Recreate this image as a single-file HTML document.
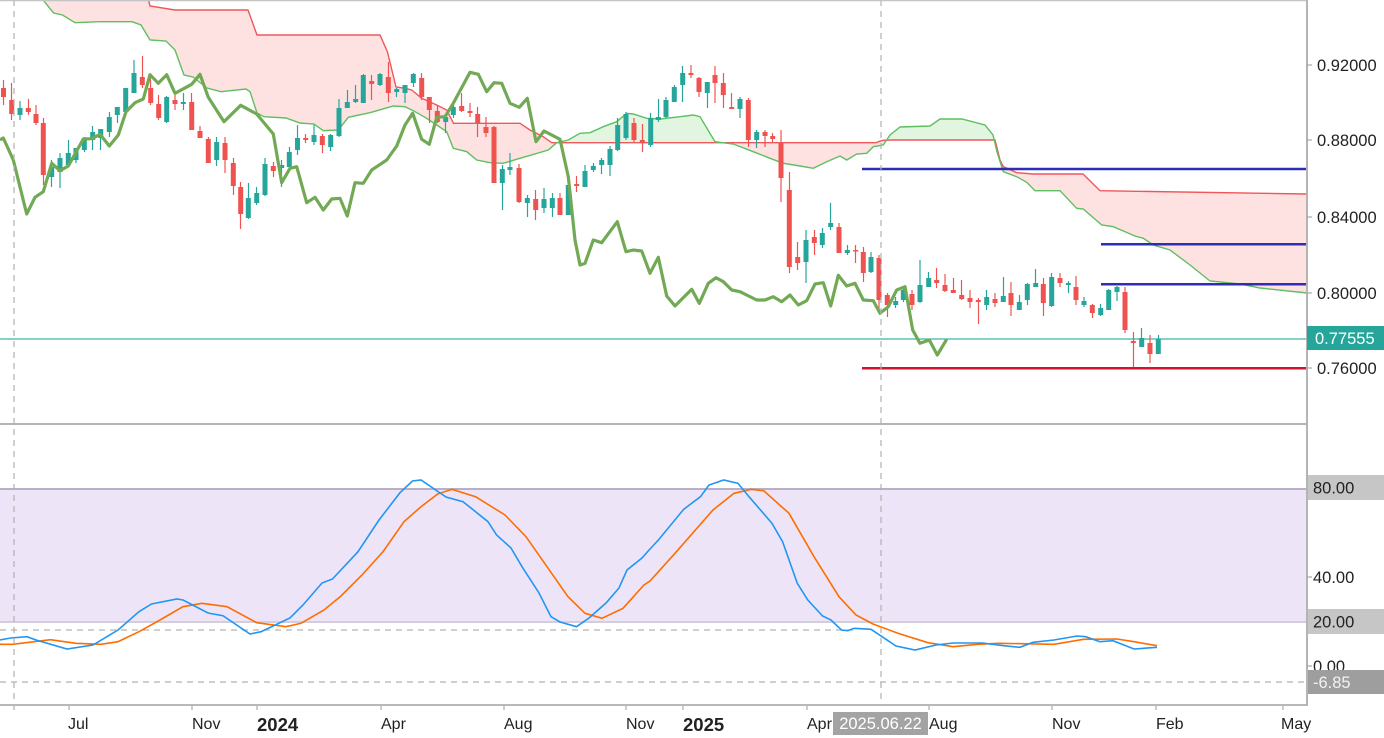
<!DOCTYPE html>
<html><head><meta charset="utf-8"><style>
html,body{margin:0;padding:0;background:#fff;}
svg{display:block;}
text{font-family:"Liberation Sans",sans-serif;}
</style></head><body>
<svg width="1384" height="738" viewBox="0 0 1384 738" xmlns="http://www.w3.org/2000/svg">
<rect width="1384" height="738" fill="#fff"/>
<!-- lower band -->
<rect x="0" y="489" width="1307" height="133" fill="#ede5f7"/>
<line x1="0" y1="489" x2="1307" y2="489" stroke="#b8b0c6" stroke-width="2"/>
<line x1="0" y1="622" x2="1307" y2="622" stroke="#d3ced9" stroke-width="2"/>
<!-- cloud fills -->
<polygon fill="#fde2e1" points="40,-10 146,-10 150,6 175,10 248,10 257,35 380,35 387.5,52 396,87 405,88.3 411.7,90 421.7,98.3 436.7,105 446.7,110 453.5,123.3 520,123.3 530,130 543.3,136.7 551.7,142.7 876,142.7 882,140.5 890,140 995,140 1000,160 1003.3,166.7 1016.7,172.7 1033,174 1083,174 1100,190.7 1307,194 1307,293 1260,288 1240,284 1210,281 1190,265 1170,250 1153.3,245 1143.3,238.3 1135,236 1123.3,231 1113.3,226.7 1101.7,225 1083.3,209 1076.7,208.3 1060,190.7 1035,190.7 1026.7,182.3 1016.7,176.7 1003.3,171.7 997,152 993,135 985,125 962,119 940,119 930,126 900,127 890,135 883.3,145 873.3,146.7 866.7,153.3 856.7,154 846.7,160 840,156 826.7,161.7 813.3,168.3 800,166 783.3,163.3 770,158.3 753.3,151.7 733.3,144 715,141.7 700,116.7 693.3,115 680,116.7 660,119 646.7,118.3 633.3,114 626.7,113.3 616.7,121.7 603.3,126.7 590,132.7 580,133.3 568.3,140 556.7,142.7 548.3,150 520,158.3 503.3,163.3 490,162.7 476.7,160 466.7,151.7 453.3,148.3 446.7,131.7 436.7,125 426.7,118.3 413.3,110.7 405,106.7 393.3,106 370,112.7 348.3,117.3 338.3,130 323.3,130.7 314,124 300,123 286,118 264,116.7 257,113 250,91.7 246,89 221,91.7 207,88 193,77 184,75 175,50 166,41 150,40 141,25 132,21.7 100,21.7 75,22.7 62.5,15 53.6,13 43,0 40,-5"/>
<polygon fill="#e1f5e1" points="556.7,142.7 568.3,140 580,133.3 590,132.7 603.3,126.7 616.7,121.7 626.7,113.3 633.3,114 646.7,118.3 660,119 680,116.7 693.3,115 700,116.7 715,142.7"/>
<polygon fill="#e1f5e1" points="887,140 890,135 900,127 930,126 940,119 962,119 985,125 993,135 995,140"/>
<!-- cloud lines -->
<polyline fill="none" stroke="#f0575a" stroke-width="1.4" points="40,-10 146,-10 150,6 175,10 248,10 257,35 380,35 387.5,52 396,87 405,88.3 411.7,90 421.7,98.3 436.7,105 446.7,110 453.5,123.3 520,123.3 530,130 543.3,136.7 551.7,142.7 876,142.7 882,140.5 890,140 995,140 1000,160 1003.3,166.7 1016.7,172.7 1033,174 1083,174 1100,190.7 1307,194"/>
<polyline fill="none" stroke="#5fbf5f" stroke-width="1.4" points="40,-5 43,0 53.6,13 62.5,15 75,22.7 100,21.7 132,21.7 141,25 150,40 166,41 175,50 184,75 193,77 207,88 221,91.7 246,89 250,91.7 257,113 264,116.7 286,118 300,123 314,124 323.3,130.7 338.3,130 348.3,117.3 370,112.7 393.3,106 405,106.7 413.3,110.7 426.7,118.3 436.7,125 446.7,131.7 453.3,148.3 466.7,151.7 476.7,160 490,162.7 503.3,163.3 520,158.3 548.3,150 556.7,142.7 568.3,140 580,133.3 590,132.7 603.3,126.7 616.7,121.7 626.7,113.3 633.3,114 646.7,118.3 660,119 680,116.7 693.3,115 700,116.7 715,141.7 733.3,144 753.3,151.7 770,158.3 783.3,163.3 800,166 813.3,168.3 826.7,161.7 840,156 846.7,160 856.7,154 866.7,153.3 873.3,146.7 883.3,145 890,135 900,127 930,126 940,119 962,119 985,125 993,135 997,152 1003.3,171.7 1016.7,176.7 1026.7,182.3 1035,190.7 1060,190.7 1076.7,208.3 1083.3,209 1101.7,225 1113.3,226.7 1123.3,231 1135,236 1143.3,238.3 1153.3,245 1170,250 1190,265 1210,281 1240,284 1260,288 1307,293"/>
<!-- current price line -->
<line x1="0" y1="339" x2="1307" y2="339" stroke="#3cb4a8" stroke-width="1.3"/>
<!-- candles red -->
<path fill="none" stroke="#ef5350" stroke-width="1.2" d="M3.5 80V105M11.5 83V120M28.5 99V115M36 105V125M43.5 118V185M142.5 56V88M150.5 77V105M158.5 95V120M175 95V110M191.5 93V130M200 126V138M208.5 137V163M225 137V173M233.5 158V195M240.5 182V229M273.5 162V177M305.5 134V143M322.5 134V153M371.5 75V100M388.5 62V102M421.5 73V100M429.5 97V123M437.5 105V123M461.5 93V112M470 103V117M477.5 107V137M486 117V137M494 126V183M519 164V203M535.5 190V220M560 193V215M576.5 176V192M634 118V142M642.5 124V152M691 65V78M699 77V97M715 66V103M723.5 73V108M731.5 93V109M748.5 98V147M765 130V147M772.5 133V142M781 130V202M789.5 172V273M797.5 242V270M814.5 230V255M839 223V253M855.5 245V263M863.5 247V282M879 255V310M887.5 293V317M912 290V310M936.5 268V288M945 274V292M953.5 278V293M961.5 280V300M970 290V308M978.5 298V324M995 293V307M1011 282V316M1043.5 278V316M1060 273V287M1076 276V305M1092.5 304V318M1125 287V333M1133.5 332V368M1150 335V363"/>
<g fill="#ef5350">
<rect x="1" y="88" width="5" height="9"/><rect x="9.2" y="100" width="5" height="14"/><rect x="25.8" y="108" width="5" height="4"/><rect x="33.5" y="114" width="5" height="9"/><rect x="40.8" y="123" width="5" height="52"/><rect x="139.8" y="77" width="5" height="8"/><rect x="148.2" y="88" width="5" height="15"/><rect x="156.2" y="104" width="5" height="14"/><rect x="172.5" y="100" width="5" height="4"/><rect x="189.2" y="102" width="5" height="28"/><rect x="197.5" y="131" width="5" height="7"/><rect x="205.8" y="139" width="5" height="24"/><rect x="222.5" y="143" width="5" height="17"/><rect x="230.8" y="163" width="5" height="23"/><rect x="238.2" y="187" width="5" height="27"/><rect x="270.8" y="166" width="5" height="5"/><rect x="303.2" y="138" width="5" height="2"/><rect x="319.8" y="136" width="5" height="9"/><rect x="369.2" y="81" width="5" height="3"/><rect x="385.8" y="77" width="5" height="16"/><rect x="419.2" y="78" width="5" height="19"/><rect x="426.8" y="97" width="5" height="13"/><rect x="434.8" y="111" width="5" height="11"/><rect x="459.2" y="106" width="5" height="5"/><rect x="467.5" y="111" width="5" height="2"/><rect x="475.2" y="114" width="5" height="9"/><rect x="483.5" y="127" width="5" height="6"/><rect x="491.5" y="127" width="5" height="56"/><rect x="516.5" y="168" width="5" height="34"/><rect x="533.2" y="199" width="5" height="11"/><rect x="557.5" y="198" width="5" height="17"/><rect x="574.2" y="184" width="5" height="2"/><rect x="631.5" y="123" width="5" height="17"/><rect x="639.8" y="140" width="5" height="3"/><rect x="688.5" y="73" width="5" height="2"/><rect x="696.5" y="78" width="5" height="14"/><rect x="712.5" y="75" width="5" height="8"/><rect x="720.8" y="83" width="5" height="12"/><rect x="729.2" y="107" width="5" height="2"/><rect x="745.8" y="100" width="5" height="40"/><rect x="762.5" y="132" width="5" height="4"/><rect x="770.2" y="136" width="5" height="3"/><rect x="778.5" y="143" width="5" height="35"/><rect x="786.8" y="190" width="5" height="77"/><rect x="795.2" y="257" width="5" height="6"/><rect x="811.8" y="237" width="5" height="6"/><rect x="836.5" y="227" width="5" height="26"/><rect x="853.2" y="250" width="5" height="1.5"/><rect x="860.8" y="252" width="5" height="21"/><rect x="876.5" y="258" width="5" height="42"/><rect x="884.8" y="295" width="5" height="10"/><rect x="909.5" y="294" width="5" height="11"/><rect x="934.2" y="280" width="5" height="3"/><rect x="942.5" y="285" width="5" height="6"/><rect x="950.8" y="290" width="5" height="3"/><rect x="959.2" y="295" width="5" height="4"/><rect x="967.5" y="298" width="5" height="4"/><rect x="975.8" y="300" width="5" height="2"/><rect x="992.5" y="299" width="5" height="4"/><rect x="1008.5" y="293" width="5" height="12"/><rect x="1040.8" y="284" width="5" height="19"/><rect x="1057.5" y="278" width="5" height="5"/><rect x="1073.5" y="287" width="5" height="13"/><rect x="1089.8" y="305" width="5" height="8"/><rect x="1122.5" y="292" width="5" height="38"/><rect x="1130.8" y="341" width="5" height="2"/><rect x="1147.5" y="343" width="5" height="11"/>
</g>
<!-- candles green -->
<path fill="none" stroke="#26a69a" stroke-width="1.2" d="M20 101V120M51.5 160V187M60 153V188M68.5 140V165M76 148V163M84.5 137V152M92.5 126V150M100.5 129V150M109.5 112V137M117.5 107V123M125.5 88V115M134 60V93M166.5 96V123M183.5 93V110M216.5 137V166M248.5 183V219M256.5 187V205M265 158V196M281.5 160V187M289.5 147V168M297.5 125V155M314 125V145M330.5 134V151M339 99V137M347.5 90V108M355.5 85V103M363.5 74V103M380 73V86M396.5 88V97M405 85V103M413.5 73V87M445.5 115V133M453.5 105V118M502.5 165V210M510 153V175M527.5 195V217M544 188V213M552.5 193V217M568.5 185V215M585 165V187M593.5 163V172M601.5 158V174M610 146V176M617.5 118V151M626 112V140M650.5 113V147M658.5 99V122M666 97V118M674.5 85V102M682.5 66V102M707.5 82V108M740 97V118M756.5 130V148M806 230V283M822.5 228V248M830.5 203V230M847.5 245V255M871 252V273M895.5 297V308M903.5 287V302M920 260V303M928.5 272V287M986.5 290V310M1003.5 277V302M1019.5 295V310M1027.5 283V305M1035.5 269V287M1051.5 273V307M1068.5 281V293M1084 297V307M1100.5 304V316M1108.5 289V310M1117 286V301M1141.5 328V347M1158.5 335V354"/>
<g fill="#26a69a">
<rect x="17.5" y="108" width="5" height="7"/><rect x="49.2" y="167" width="5" height="10"/><rect x="57.5" y="158" width="5" height="14"/><rect x="65.8" y="153" width="5" height="12"/><rect x="73.5" y="148" width="5" height="12"/><rect x="81.8" y="138" width="5" height="12"/><rect x="90.2" y="132" width="5" height="8"/><rect x="98.2" y="129" width="5" height="9"/><rect x="106.8" y="117" width="5" height="15"/><rect x="114.8" y="107" width="5" height="8"/><rect x="123.2" y="88" width="5" height="24"/><rect x="131.5" y="73" width="5" height="20"/><rect x="164.2" y="97" width="5" height="25"/><rect x="180.8" y="102" width="5" height="2"/><rect x="214.2" y="142" width="5" height="18"/><rect x="245.8" y="198" width="5" height="20"/><rect x="254.2" y="193" width="5" height="10"/><rect x="262.5" y="164" width="5" height="31"/><rect x="279.2" y="165" width="5" height="3"/><rect x="286.8" y="152" width="5" height="15"/><rect x="295" y="138" width="5" height="12"/><rect x="311.5" y="135" width="5" height="7"/><rect x="328.2" y="135" width="5" height="12"/><rect x="336.5" y="108" width="5" height="28"/><rect x="344.8" y="102" width="5" height="6"/><rect x="353.2" y="99" width="5" height="3"/><rect x="360.8" y="75" width="5" height="28"/><rect x="377.5" y="74" width="5" height="11"/><rect x="394.2" y="89" width="5" height="3"/><rect x="402.5" y="85" width="5" height="8"/><rect x="410.8" y="74" width="5" height="9"/><rect x="443.2" y="117" width="5" height="5"/><rect x="450.8" y="107" width="5" height="8"/><rect x="499.8" y="169" width="5" height="14"/><rect x="507.5" y="167" width="5" height="3"/><rect x="524.8" y="198" width="5" height="5"/><rect x="541.5" y="199" width="5" height="9"/><rect x="549.8" y="198" width="5" height="10"/><rect x="565.8" y="185" width="5" height="30"/><rect x="582.5" y="171" width="5" height="16"/><rect x="590.8" y="166" width="5" height="4"/><rect x="599.2" y="160" width="5" height="5"/><rect x="607.5" y="149" width="5" height="16"/><rect x="615.2" y="125" width="5" height="25"/><rect x="623.5" y="114" width="5" height="24"/><rect x="648.2" y="118" width="5" height="27"/><rect x="655.8" y="117" width="5" height="3"/><rect x="663.5" y="100" width="5" height="17"/><rect x="671.8" y="87" width="5" height="15"/><rect x="680.2" y="73" width="5" height="12"/><rect x="704.8" y="82" width="5" height="11"/><rect x="737.5" y="99" width="5" height="10"/><rect x="754.2" y="132" width="5" height="8"/><rect x="803.5" y="240" width="5" height="22"/><rect x="819.8" y="233" width="5" height="12"/><rect x="828.2" y="223" width="5" height="4"/><rect x="844.8" y="250" width="5" height="3"/><rect x="868.5" y="257" width="5" height="15"/><rect x="893.2" y="301" width="5" height="4"/><rect x="900.8" y="290" width="5" height="10"/><rect x="917.5" y="285" width="5" height="17"/><rect x="926.2" y="278" width="5" height="9"/><rect x="984.2" y="297" width="5" height="8"/><rect x="1000.8" y="296" width="5" height="6"/><rect x="1016.8" y="302" width="5" height="8"/><rect x="1024.8" y="284" width="5" height="16"/><rect x="1033.2" y="283" width="5" height="4"/><rect x="1049.2" y="277" width="5" height="29"/><rect x="1065.8" y="283" width="5" height="2"/><rect x="1081.5" y="301" width="5" height="4"/><rect x="1098.2" y="308" width="5" height="7"/><rect x="1106.2" y="290" width="5" height="20"/><rect x="1114.5" y="287" width="5" height="5"/><rect x="1139.2" y="338" width="5" height="9"/><rect x="1155.8" y="339" width="5" height="15"/>
</g>
<!-- chikou -->
<polyline fill="none" stroke="#72a955" stroke-width="3.2" stroke-linejoin="round" points="0,140 3.3,138 13.3,160 26.7,214 35,197.3 43.3,191.7 51.7,163.3 60,170.7 68.3,166 83.3,139 91.7,138.7 100,134.3 109.3,146 118.3,135 126,111.7 135,102.7 143.3,99 150,74.7 158.3,83.3 166.7,74.7 175,93.3 191.7,84.3 200,74.3 208.3,97.3 224,121.7 240.7,105.3 256.7,114 273.3,134 281.7,182.7 290,168.3 296.7,166.7 306.7,202.7 315,197.3 323.3,210 331.7,199 340,198.3 347.3,216 355,182.7 363.3,183.3 371.7,170 386.7,160 396.7,146 405,125 412.7,113.3 421.7,139.3 429.3,144.3 436.7,117.3 445,116.7 453.3,103.3 470,72.3 478.3,74.3 486.7,91.7 494,82.7 501.7,83.3 510,103.3 519.3,107.3 527.3,98.3 536,141.7 544,131 560,139.3 568.3,176.7 575,240 580,265 585,263.3 593.3,240 601.7,242.7 617.3,221.7 626,251.7 633.3,250 641.7,251 650,273.3 658.3,257.3 666.7,296 675,306 691.7,289.3 699.3,303.3 708.3,283.3 716,277.7 723.3,281.7 731.7,290 740,291.7 756.7,300 765,300 773.3,296.7 781.7,301.7 790,295 798.3,305 806.7,300.7 815,284 823.3,282.7 830.7,306 838.3,275.3 846.7,286 855,283.3 863.3,300 873.3,300.7 880,313.3 888.3,306.7 896.7,290 905,286.7 912.7,330 920,343.3 929.3,340 937.3,355 946.7,339.3"/>
<!-- drawn horizontal lines -->
<line x1="862" y1="169" x2="1306" y2="169" stroke="#2d2db5" stroke-width="2.5"/>
<line x1="1101" y1="244.3" x2="1306" y2="244.3" stroke="#2d2db5" stroke-width="2.5"/>
<line x1="1101" y1="284.3" x2="1306" y2="284.3" stroke="#2d2db5" stroke-width="2.5"/>
<line x1="862" y1="368.3" x2="1306" y2="368.3" stroke="#d2122e" stroke-width="2.5"/>
<!-- stochastic -->
<line x1="0" y1="630" x2="855" y2="630" stroke="#b5b5b5" stroke-width="1.2" stroke-dasharray="6,5"/>
<polyline fill="none" stroke="#ff6d00" stroke-width="1.6" points="0,644.3 12.6,644.3 50.5,639.7 75.8,643.3 101,644.3 118,641.7 139,631.7 160,620 183,606.7 202,603.3 227,606.7 256.7,622.7 286,626.7 301,623.3 324,610 341,596 362,575 383,551.7 404,521.7 421,506.7 437.7,494 452,489.3 475.6,496.7 505,515 526,536.7 547,566.7 568,596.7 585,613.3 602,618.3 623,608.3 644,585 650,581 675,553.3 713,510 734,493.3 751,489.3 763.6,490.7 789,513.3 814,556.7 839,596.7 856,615 873,624 898,633.3 928,642.7 953,646.7 978,644.3 999,643.3 1054,644.3 1083.5,639.3 1117,639 1134,641.7 1157,645.7"/>
<polyline fill="none" stroke="#2196f3" stroke-width="1.6" points="0,640 10.5,638 27,636.7 36,640 67,649 93,645 118,630 139,611.7 151.5,604 177,599 183,600 208,613 223,615.7 250,634 261,631.7 290,618 303,605 322,583 332.5,579 358,551.7 379,520 400,492.7 412.5,481 421,480 446,497 463,501.7 475.6,511.7 488,521.7 496.6,535 511,548 522,566.7 539,593 551,616.7 560,622 576.6,626.7 589,618 606,603 619,588 627,570 642,558 650,549 658.4,540 683.7,509.3 700.5,496.7 709,485 723.7,480 738,483.3 749,496.7 772,523.3 782.6,541.7 797.3,583.3 807.8,600 822.6,616 831,620 841.5,630 847.8,630.7 854,628.3 871,629.3 896,646 915,650 936,645 953,643 982.5,643 1003.5,645.7 1020,647.3 1033,642.3 1054,640 1077,636 1085.6,636.7 1100,641.7 1113,640.7 1134,649 1157,647.3"/>
<!-- crosshair / dashed -->
<line x1="0" y1="682" x2="1307" y2="682" stroke="#b0b0b0" stroke-width="1.2" stroke-dasharray="6,5"/>
<line x1="14" y1="0" x2="14" y2="705" stroke="#b0b0b0" stroke-width="1.2" stroke-dasharray="6,5"/>
<line x1="881" y1="0" x2="881" y2="705" stroke="#b0b0b0" stroke-width="1.2" stroke-dasharray="6,5"/>
<!-- frame -->
<line x1="0" y1="0.5" x2="1307" y2="0.5" stroke="#c4c4c4" stroke-width="1.5"/>
<line x1="0" y1="424" x2="1307" y2="424" stroke="#b4b4b4" stroke-width="2"/>
<line x1="0" y1="705" x2="1307" y2="705" stroke="#b8b8b8" stroke-width="2"/>
<line x1="1307" y1="0" x2="1307" y2="706" stroke="#b4b4b4" stroke-width="2"/>
<!-- price ticks -->
<path stroke="#9a9a9a" stroke-width="1" d="M1307 65H1312M1307 140H1312M1307 217H1312M1307 293H1312M1307 368H1312M1307 577H1312M1307 666H1312"/>
<g font-size="16.5" fill="#222">
<text x="1317" y="71">0.92000</text>
<text x="1317" y="146">0.88000</text>
<text x="1317" y="223">0.84000</text>
<text x="1317" y="299">0.80000</text>
<text x="1317" y="374">0.76000</text>
<text x="1313" y="583">40.00</text>
<text x="1313" y="672">0.00</text>
</g>
<rect x="1307" y="326" width="77" height="24" fill="#26a69a"/>
<text x="1315" y="344" font-size="16.5" fill="#fff">0.77555</text>
<rect x="1308" y="475" width="76" height="25" fill="#c6c6c6"/>
<text x="1313" y="493.5" font-size="16.5" fill="#222">80.00</text>
<rect x="1308" y="609" width="76" height="25" fill="#c6c6c6"/>
<text x="1313" y="627.5" font-size="16.5" fill="#222">20.00</text>
<rect x="1308" y="670" width="76" height="24" fill="#9e9e9e"/>
<text x="1313" y="688" font-size="16.5" fill="#f2f2f2">-6.85</text>
<!-- time ticks -->
<path stroke="#9a9a9a" stroke-width="1" d="M14 706V710M69 706V710M192 706V710M257 706V710M381 706V710M504 706V710M626 706V710M683 706V710M807 706V710M929 706V710M1052 706V710M1156 706V710M1283 706V710"/>
<g font-size="16" fill="#222">
<text x="68" y="729">Jul</text>
<text x="192" y="729">Nov</text>
<text x="381" y="729">Apr</text>
<text x="504" y="729">Aug</text>
<text x="626" y="729">Nov</text>
<text x="807" y="729">Apr</text>
<text x="929" y="729">Aug</text>
<text x="1052" y="729">Nov</text>
<text x="1156" y="729">Feb</text>
<text x="1281" y="729">May</text>
</g>
<g font-size="18.5" font-weight="bold" fill="#222">
<text x="257" y="731">2024</text>
<text x="683" y="731">2025</text>
</g>
<rect x="833" y="712" width="95" height="23" fill="#a3a3a3"/>
<text x="880.5" y="729" font-size="16.5" fill="#fff" text-anchor="middle">2025.06.22</text>
</svg>
</body></html>
